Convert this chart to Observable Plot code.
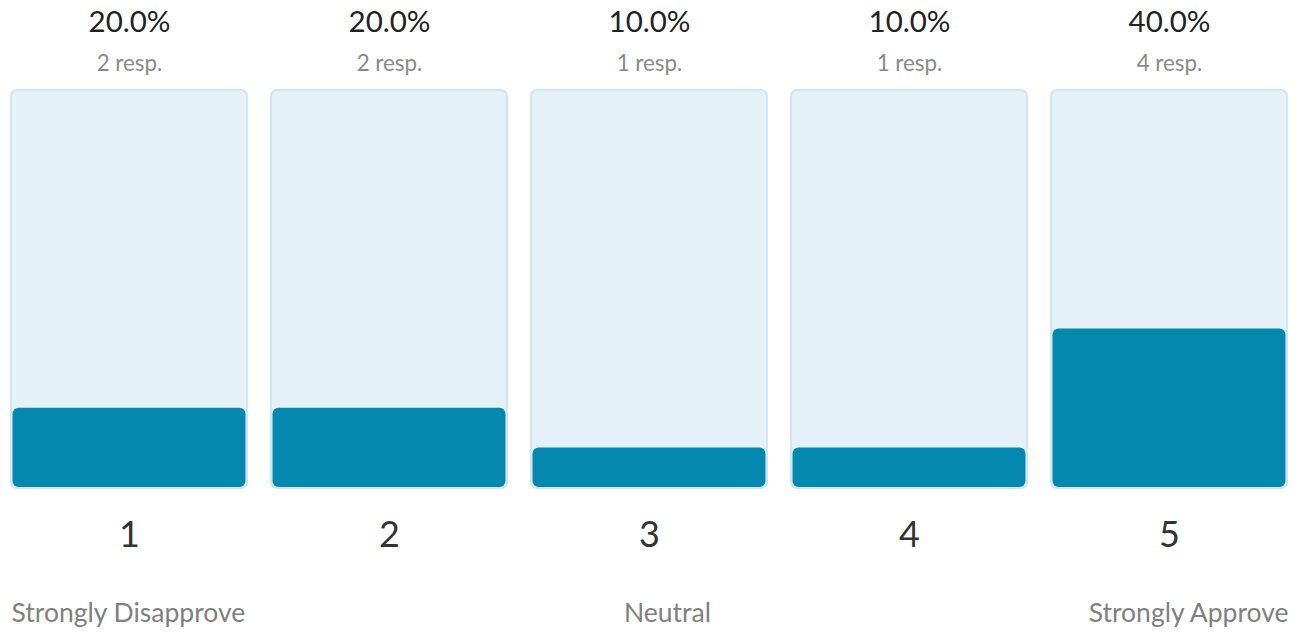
<!DOCTYPE html>
<html>
<head>
<meta charset="utf-8">
<script src="https://cdn.jsdelivr.net/npm/d3@7"></script>
<script src="https://cdn.jsdelivr.net/npm/@observablehq/plot@0.6"></script>
<style>
  html, body { margin: 0; padding: 0; background: #fff; }
  #chart svg { display: block; }
</style>
</head>
<body>
<div id="chart"></div>
<script>
const categories = ["1", "2", "3", "4", "5"];
const percents = [20.0, 20.0, 10.0, 10.0, 40.0];
const responses = [2, 2, 1, 1, 4];
const anchorLabels = ["Strongly Disapprove", "", "Neutral", "", "Strongly Approve"];

const data = categories.map((c, i) => ({
  cat: c,
  pct: percents[i],
  resp: responses[i],
  anchor: anchorLabels[i],
  full: 100
}));

const font = "Lato, 'Open Sans', sans-serif";

const chart = Plot.plot({
  width: 1301,
  height: 634,
  margin: 0,
  style: { fontFamily: font, background: "#fff" },
  x: { type: "band", domain: categories, range: [10, 1288], paddingInner: 0.0923, paddingOuter: 0, axis: null },
  y: { domain: [0, 100], range: [487, 91], axis: null },
  marks: [
    Plot.barY(data, { x: "cat", y1: 0, y2: "full", fill: "#e4f1f7", stroke: "#cfe7f0", strokeWidth: 2, rx: 6, insetTop: -1, insetBottom: -1 }),
    Plot.barY(data, { x: "cat", y1: 0, y2: "pct", fill: "#0488b0", rx: 6, insetLeft: 1.5, insetRight: 1.5 }),
    Plot.text(data, { x: "cat", text: d => d.pct.toFixed(1) + "%", frameAnchor: "top", lineAnchor: "middle", dy: 22, fontSize: 29.5, fill: "#222" }),
    Plot.text(data, { x: "cat", text: d => d.resp + " resp.", frameAnchor: "top", lineAnchor: "middle", dy: 63, fontSize: 22.4, fill: "#8a8a8a" }),
    Plot.text(data, { x: "cat", text: "cat", frameAnchor: "bottom", lineAnchor: "middle", dy: -99, fontSize: 36, fill: "#333" }),
    Plot.text(data.filter(d => d.cat === "1"), { x: "cat", text: "anchor", frameAnchor: "bottom", lineAnchor: "middle", textAnchor: "start", dx: -118, dy: -21, fontSize: 26.5, fill: "#808080" }),
    Plot.text(data.filter(d => d.cat === "3"), { x: "cat", text: "anchor", frameAnchor: "bottom", lineAnchor: "middle", dx: 18, dy: -21, fontSize: 26.5, fill: "#808080" }),
    Plot.text(data.filter(d => d.cat === "5"), { x: "cat", text: "anchor", frameAnchor: "bottom", lineAnchor: "middle", textAnchor: "end", dx: 119, dy: -21, fontSize: 26.5, fill: "#808080" })
  ]
});

document.getElementById("chart").appendChild(chart);
</script>
</body>
</html>
